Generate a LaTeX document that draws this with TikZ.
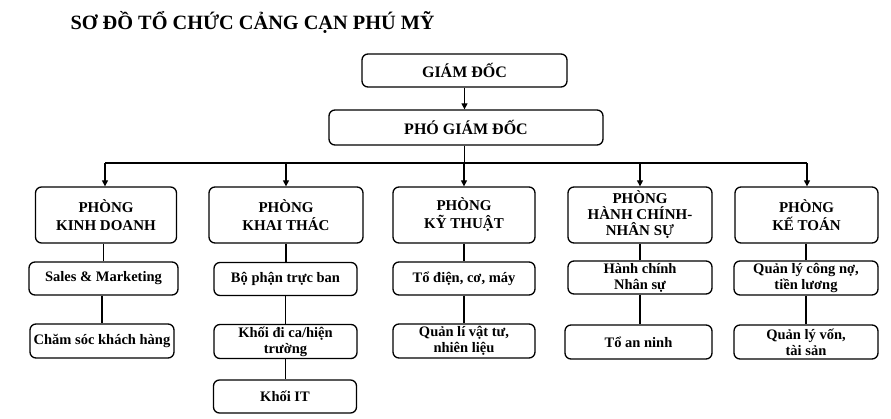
\documentclass[tikz,border=0pt]{standalone}
\usepackage{fontspec}
\setmainfont{Liberation Serif}
\usetikzlibrary{arrows.meta}
\begin{document}
\begin{tikzpicture}[x=1pt,y=-1pt,
  box/.style={draw, line width=1.3pt, rounded corners=6pt, align=center, inner sep=0pt, font=\bfseries\fontsize{14.5}{16}\selectfont},
  head/.style={box, font=\bfseries\fontsize{16}{18}\selectfont},
  dept/.style={box, font=\bfseries\fontsize{15}{18}\selectfont},
  link/.style={line width=1.2pt},
  arr/.style={line width=1.2pt, -{Triangle[width=6pt,length=6pt]}}]
\useasboundingbox (0,0) rectangle (891,418);
\node[anchor=base west, font=\bfseries\fontsize{20.3}{22}\selectfont] (title) at (67,29) {SƠ ĐỒ TỔ CHỨC CẢNG CẠN PHÚ MỸ};
\node[head, minimum width=205pt, minimum height=33pt] (gd) at (464.5,70.5) {GIÁM ĐỐC};
\node[head, minimum width=274pt, minimum height=35pt] (pgd) at (466,127.5) {PHÓ GIÁM ĐỐC};
% departments
\node[dept, minimum width=141pt, minimum height=56pt] (kd) at (106,215) {PHÒNG\\KINH DOANH};
\node[dept, minimum width=154pt, minimum height=56pt] (kt) at (286,215) {PHÒNG\\KHAI THÁC};
\node[dept, minimum width=142pt, minimum height=56pt] (ky) at (464,215) {PHÒNG\\KỸ THUẬT};
\node[dept, minimum width=144pt, minimum height=56pt, font=\bfseries\fontsize{15}{16}\selectfont] (hc) at (640,215) {PHÒNG\\HÀNH CHÍNH-\\NHÂN SỰ};
\node[dept, minimum width=143pt, minimum height=56pt] (ke) at (806.5,215) {PHÒNG\\KẾ TOÁN};
% sub units
\node[box, minimum width=149pt, minimum height=33pt] (kd1) at (103.5,278.5) {Sales \& Marketing};
\node[box, minimum width=144pt, minimum height=34pt] (kd2) at (102,341) {Chăm sóc khách hàng};
\node[box, minimum width=143pt, minimum height=33pt] (kt1) at (285.5,279) {Bộ phận trực ban};
\node[box, minimum width=143pt, minimum height=34pt] (kt2) at (285.5,341.5) {Khối đi ca/hiện\\trường};
\node[box, minimum width=143pt, minimum height=33pt] (kt3) at (285,396.5) {Khối IT};
\node[box, minimum width=142pt, minimum height=33pt] (ky1) at (464,278.5) {Tổ điện, cơ, máy};
\node[box, minimum width=142pt, minimum height=34pt] (ky2) at (464,341) {Quản lí vật tư,\\nhiên liệu};
\node[box, minimum width=144pt, minimum height=33pt] (hc1) at (640,277.5) {Hành chính\\Nhân sự};
\node[box, minimum width=147pt, minimum height=34pt] (hc2) at (638.5,342) {Tổ an ninh};
\node[box, minimum width=144pt, minimum height=34pt] (ke1) at (806,278) {Quản lý công nợ,\\tiền lương};
\node[box, minimum width=144pt, minimum height=34pt] (ke2) at (806,342) {Quản lý vốn,\\tài sản};
% top connectors
\draw[arr] (gd.south) -- (gd.south |- pgd.north);
\coordinate (busL) at (105,163);
\coordinate (busR) at (807,163);
\draw[link] (pgd.south -| gd.south) -- (gd.south |- busL);
\draw[link] (busL) -- (busR);
\draw[arr] (busL) -- (busL |- kd.north);
\draw[arr] (kt.north |- busL) -- (kt.north);
\draw[arr] (ky.north |- busL) -- (ky.north);
\draw[arr] (hc.north |- busL) -- (hc.north);
\draw[arr] (busR) -- (busR |- ke.north);
% vertical chains
\draw[link] (kd.south -| kd1.north) -- (kd1.north);
\draw[link] (kd1.south -| kd2.north) -- (kd2.north);
\draw[link] (kt.south) -- (kt.south |- kt1.north);
\draw[link] (kt1.south) -- (kt1.south |- kt2.north);
\draw[link] (kt2.south) -- (kt2.south |- kt3.north);
\draw[link] (ky.south) -- (ky1.north);
\draw[link] (ky1.south) -- (ky2.north);
\draw[link] (hc.south) -- (hc1.north);
\draw[link] (hc1.south) -- (hc1.south |- hc2.north);
\draw[link] (ke.south -| ke1.north) -- (ke1.north);
\draw[link] (ke1.south) -- (ke2.north);
\end{tikzpicture}
\end{document}
